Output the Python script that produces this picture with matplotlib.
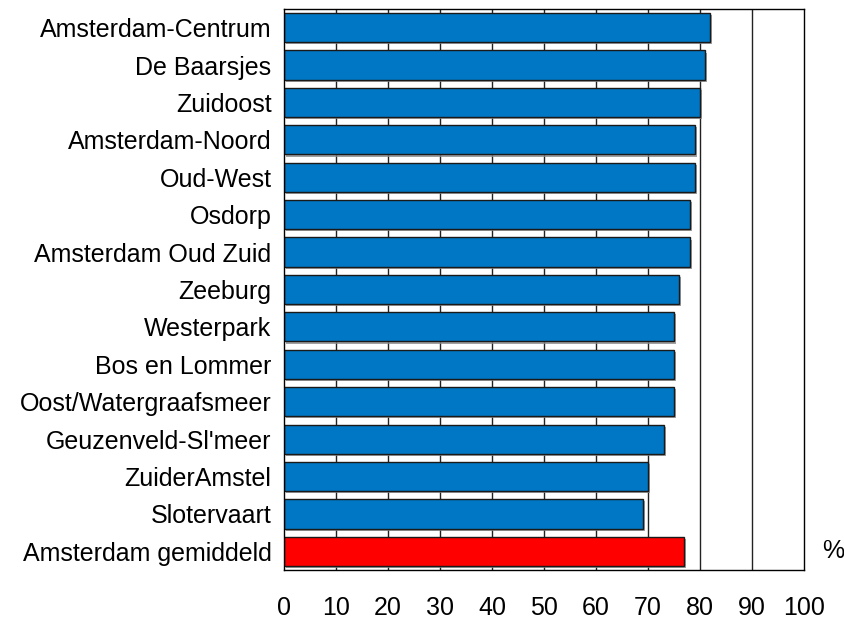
import matplotlib.pyplot as plt
import matplotlib.patheffects as pe

plt.rcParams['font.family'] = ['Liberation Sans', 'DejaVu Sans']

districts = ['Amsterdam-Centrum', 'De Baarsjes', 'Zuidoost', 'Amsterdam-Noord',
             'Oud-West', 'Osdorp', 'Amsterdam Oud Zuid', 'Zeeburg', 'Westerpark',
             'Bos en Lommer', 'Oost/Watergraafsmeer', 'Geuzenveld-Sl\'meer',
             'ZuiderAmstel', 'Slotervaart', 'Amsterdam gemiddeld']
values = [82, 81, 80, 79, 79, 78, 78, 76, 75, 75, 75, 73, 70, 69, 77]
colors = ['#0077C4'] * 14 + ['#FF0000']
xticks = [0, 10, 20, 30, 40, 50, 60, 70, 80, 90, 100]

fs = 18

fig = plt.figure(figsize=(8.44, 6.2), dpi=100)
ax = fig.add_axes([0.3365, 0.0806, 0.616, 0.905])

# vertical gridlines behind the bars
for t in xticks[1:-1]:
    ax.axvline(t, color='#222222', lw=1, zorder=0)

pos = list(range(len(districts)))
bars = ax.barh(pos, values, height=0.78, color=colors, edgecolor='#1a1a1a',
               linewidth=1, zorder=2)
for b in bars:
    b.set_path_effects([pe.SimplePatchShadow(offset=(1.5, -1.5), shadow_rgbFace='#888888', alpha=0.8),
                        pe.Normal()])

ax.set_xlim(0, 100)
ax.set_ylim(len(districts) - 0.5, -0.5)
ax.set_yticks(pos)
ax.set_yticklabels(districts, fontsize=fs)
ax.set_xticks(xticks)
ax.set_xticklabels([str(t) for t in xticks], fontsize=fs)
ax.tick_params(axis='both', length=0)
ax.tick_params(axis='x', pad=19)
ax.tick_params(axis='y', pad=9)
for s in ax.spines.values():
    s.set_color('black')
    s.set_linewidth(1)

ax.text(1.035, len(districts) - 1, '%', transform=ax.get_yaxis_transform(),
        fontsize=fs, va='center', ha='left')

fig.savefig('out.png', dpi=100)
